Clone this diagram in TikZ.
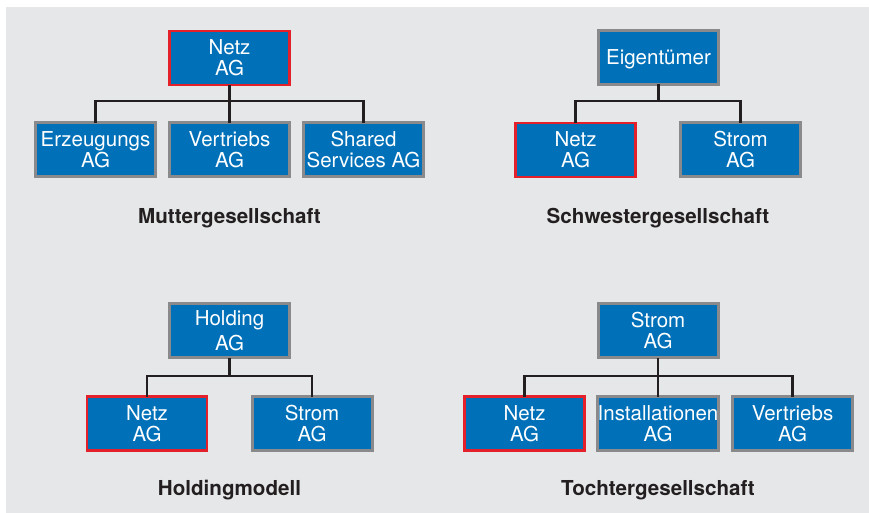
\documentclass[tikz,border=0pt]{standalone}
\usepackage{fontspec}
\setmainfont{TeX Gyre Heros}
\definecolor{bg}{HTML}{E6E7E9}
\definecolor{boxblue}{HTML}{0070B8}
\definecolor{boxgray}{HTML}{8A8A8C}
\definecolor{netzred}{HTML}{E4202A}
\definecolor{ink}{HTML}{231F20}
\begin{document}
\begin{tikzpicture}[x=1pt,y=-1pt,
  orgbox/.style={rectangle, draw=boxgray, line width=3pt, fill=boxblue,
    text=white, minimum width=120pt, minimum height=54pt, inner sep=0pt,
    outer sep=0pt, align=center, font=\fontsize{20.5}{21}\selectfont},
  netzbox/.style={orgbox, draw=netzred, line width=2.6pt},
  conn/.style={draw=ink, line width=2.6pt},
  caption/.style={anchor=base, text=ink, inner sep=0pt,
    font=\bfseries\fontsize{20.6}{24}\selectfont}]
\useasboundingbox (0,0) rectangle (869,513);
\fill[white] (0,0) rectangle (869,513);
\fill[bg] (6,7) rectangle (869,513);

% ---------- Muttergesellschaft ----------
\node[netzbox] (mnetz) at (229.5,58) {Netz\\AG};
\node[orgbox] (merz) at (95.5,150) {Erzeugungs\\AG};
\node[orgbox] (mver) at (229.5,150) {Vertriebs\\AG};
\node[orgbox] (mshr) at (363.5,150) {Shared\\Services AG};
\coordinate (tlbar) at (0,101);
\node[caption] (mcap) at (229.5,223) {Muttergesellschaft};

% ---------- Schwestergesellschaft ----------
\node[orgbox, text depth=0pt] (seig) at (658.5,57.5) {Eigentümer};
\node[netzbox] (snetz) at (575.5,150) {Netz\\AG};
\node[orgbox] (sstr) at (740.5,150) {Strom\\AG};
\coordinate (trbar) at (0,101);
\node[caption] (scap) at (658,223) {Schwestergesellschaft};

% ---------- Holdingmodell ----------
\node[orgbox, font=\fontsize{20.5}{25}\selectfont] (hhold) at (229.5,330.5) {Holding\\AG};
\node[netzbox] (hnetz) at (147,423.5) {Netz\\AG};
\node[orgbox] (hstr) at (312,423.5) {Strom\\AG};
\coordinate (blbar) at (0,376);
\node[caption] (hcap) at (229.5,495) {Holdingmodell};

% ---------- Tochtergesellschaft ----------
\node[orgbox] (tstr) at (658,330.5) {Strom\\AG};
\node[netzbox] (tnetz) at (524.5,423.5) {Netz\\AG};
\node[orgbox] (tins) at (658,423.5) {Installationen\\AG};
\node[orgbox] (tver) at (792.5,423.5) {Vertriebs\\AG};
\coordinate (brbar) at (0,376);
\node[caption] (tcap) at (658,495) {Tochtergesellschaft};

% ---------- connectors ----------
\draw[conn] (mnetz.south) -- (mver.north);
\draw[conn] (merz.north) |- (mshr.north |- tlbar) -- (mshr.north);
\draw[conn] (seig.south) -- (seig.south |- trbar);
\draw[conn] (snetz.north) |- (sstr.north |- trbar) -- (sstr.north);
\draw[conn] (hhold.south) -- (hhold.south |- blbar);
\draw[conn] (hnetz.north) |- (hstr.north |- blbar) -- (hstr.north);
\draw[conn] (tstr.south) -- (tins.north);
\draw[conn] (tnetz.north) |- (tver.north |- brbar) -- (tver.north);
\end{tikzpicture}
\end{document}
